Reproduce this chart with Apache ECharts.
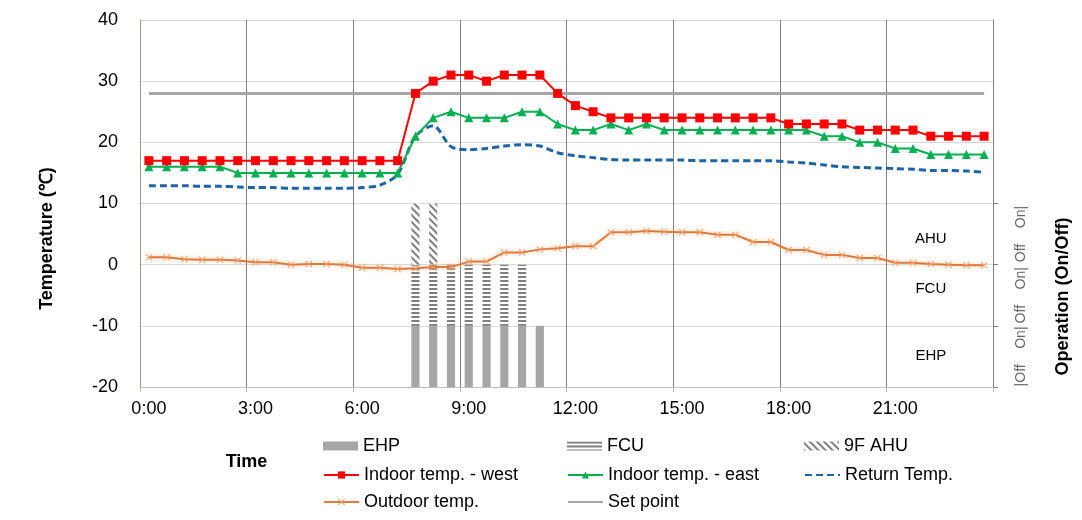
<!DOCTYPE html>
<html>
<head>
<meta charset="utf-8">
<script src="https://cdn.jsdelivr.net/npm/echarts@6/dist/echarts.min.js"></script>
<style>
html,body{margin:0;padding:0;background:#fff;}
#c{width:1082px;height:520px;}
</style>
</head>
<body>
<div id="c"></div>
<script>
var times = ["0:00","0:30","1:00","1:30","2:00","2:30","3:00","3:30","4:00","4:30","5:00","5:30",
  "6:00","6:30","7:00","7:30","8:00","8:30","9:00","9:30","10:00","10:30","11:00","11:30",
  "12:00","12:30","13:00","13:30","14:00","14:30","15:00","15:30","16:00","16:30","17:00","17:30",
  "18:00","18:30","19:00","19:30","20:00","20:30","21:00","21:30","22:00","22:30","23:00","23:30"];

var indoorWest = [17,17,17,17,17,17,17,17,17,17,17,17,17,17,17,
  28,30,31,31,30,31,31,31,28,26,25,24,24,24,24,24,24,24,24,24,24,
  23,23,23,23,22,22,22,22,21,21,21,21];

var indoorEast = [16,16,16,16,16,15,15,15,15,15,15,15,15,15,15,
  21,24,25,24,24,24,25,25,23,22,22,23,22,23,22,22,22,22,22,22,22,
  22,22,21,21,20,20,19,19,18,18,18,18];

var returnTemp = [12.9,12.9,12.9,12.8,12.8,12.7,12.6,12.6,12.5,12.5,12.5,12.5,12.6,13.0,14.8,
  21.0,22.7,19.3,18.8,19.0,19.4,19.6,19.4,18.3,17.8,17.5,17.2,17.1,17.1,17.1,17.1,17.0,
  17.0,17.0,17.0,17.0,16.8,16.6,16.3,16.0,15.9,15.8,15.7,15.6,15.4,15.4,15.3,15.1];

var outdoorTemp = [1.2,1.2,0.9,0.8,0.8,0.7,0.4,0.4,0.0,0.1,0.1,0.0,-0.5,-0.5,-0.7,
  -0.6,-0.4,-0.4,0.5,0.5,2.0,2.0,2.5,2.7,3.0,3.0,5.3,5.3,5.5,5.4,5.3,5.3,
  4.9,4.9,3.7,3.7,2.4,2.4,1.6,1.6,1.1,1.1,0.3,0.3,0.1,0.0,-0.1,-0.1];

var setPoint = [28,28,28,28,28,28,28,28,28,28,28,28,28,28,28,28,28,28,28,28,28,28,28,28,
  28,28,28,28,28,28,28,28,28,28,28,28,28,28,28,28,28,28,28,28,28,28,28,28];

var ehpOn = [0,0,0,0,0,0,0,0,0,0,0,0,0,0,0,1,1,1,1,1,1,1,1,0,
  0,0,0,0,0,0,0,0,0,0,0,0,0,0,0,0,0,0,0,0,0,0,0,0];
var fcuOn = [0,0,0,0,0,0,0,0,0,0,0,0,0,0,0,1,1,1,1,1,1,1,0,0,
  0,0,0,0,0,0,0,0,0,0,0,0,0,0,0,0,0,0,0,0,0,0,0,0];
var ahuOn = [0,0,0,0,0,0,0,0,0,0,0,0,0,0,0,1,1,0,0,0,0,0,0,0,
  0,0,0,0,0,0,0,0,0,0,0,0,0,0,0,0,0,0,0,0,0,0,0,0];

var tempTicks = [-20,40,10];
var opLabels = ["|Off    On|", "Off    On|", "Off    On|"];
var zoneNotes = [[44, 4.3, "AHU"], [44, -3.9, "FCU"], [44, -14.9, "EHP"]];

var FONT = "Liberation Sans, Arial, sans-serif";
var chart = echarts.init(document.getElementById('c'));

var xPath = 'path://M0,1L1,0L5,4L9,0L10,1L6,5L10,9L9,10L5,6L1,10L0,9L4,5Z';
var NOFILL = 'rgba(0,0,0,0)';

var textSt = {fontFamily: FONT, fontSize: 18, color: '#000', lineHeight: 20};
function lg(left, top, h, gap, data, icon) {
  var o = {orient: 'vertical', left: left, top: top, itemWidth: 35, itemHeight: h, itemGap: gap,
    textStyle: textSt, selectedMode: false, data: data};
  if (icon) o.icon = icon;
  return o;
}

var option = {
  animation: false,
  backgroundColor: '#fff',
  grid: {left: 140, right: 89, top: 20, bottom: 133, containLabel: false},
  legend: [
    lg(318, 431, 9, 8, ['EHP'], 'rect'),
    lg(562, 431, 9, 8, ['FCU'], 'rect'),
    lg(799, 431, 9, 8, ['9F AHU'], 'rect'),
    lg(318, 460, 9, 7, ['Indoor temp. - west', 'Outdoor temp.']),
    lg(562, 460, 9, 7, ['Indoor temp. - east', 'Set point']),
    lg(799, 460, 9, 7, ['Return Temp.'])
  ],
  xAxis: {
    type: 'category', data: times, boundaryGap: true,
    name: 'Time', nameLocation: 'middle', nameGap: 66,
    nameTextStyle: {fontFamily: FONT, fontSize: 18, fontWeight: 'bold', color: '#000', padding: [0, 640, 0, 0]},
    axisLine: {onZero: false, lineStyle: {color: '#bfbfbf'}},
    axisTick: {show: true, interval: 5, length: 5, lineStyle: {color: '#bfbfbf'}},
    axisLabel: {interval: 5, fontFamily: FONT, fontSize: 18, color: '#000', margin: 13},
    splitLine: {show: true, interval: 5, lineStyle: {color: '#808080', width: 1}}
  },
  yAxis: [
    {
      type: 'value', min: tempTicks[0], max: tempTicks[1], interval: tempTicks[2],
      name: 'Temperature (℃)', nameLocation: 'middle', nameGap: 84, nameRotate: 90,
      nameTextStyle: {fontFamily: FONT, fontSize: 18, fontWeight: 'bold', color: '#000', padding: [0, 70, 0, 0]},
      axisLine: {show: true, lineStyle: {color: '#8fa37f'}},
      axisTick: {show: false},
      axisLabel: {fontFamily: FONT, fontSize: 18, color: '#000', margin: 22},
      splitLine: {show: true, lineStyle: {color: '#d9d9d9'}}
    },
    {
      type: 'value', min: 0, max: 6, interval: 1, position: 'right',
      name: 'Operation (On/Off)', nameLocation: 'middle', nameGap: 61, nameRotate: 90,
      nameTextStyle: {fontFamily: FONT, fontSize: 18, fontWeight: 'bold', color: '#000', padding: [0, 186, 0, 0]},
      axisLine: {show: true, lineStyle: {color: '#808080'}},
      axisTick: {show: true, length: 5, customValues: [0, 1, 2, 3], lineStyle: {color: '#808080'}},
      axisLabel: {
        show: true, customValues: [0.5, 1.5, 2.5], rotate: 90, margin: 21,
        fontFamily: FONT, fontSize: 14, color: '#666',
        formatter: function (v) { return opLabels[Math.floor(v)]; }
      },
      splitLine: {show: false}
    }
  ],
  series: [
    {
      name: 'EHP', type: 'bar', yAxisIndex: 1, stack: 'op', data: ehpOn, barWidth: '46%',
      itemStyle: {color: '#a6a6a6'}, z: 1
    },
    {
      name: 'FCU', type: 'bar', yAxisIndex: 1, stack: 'op', data: fcuOn, barWidth: '46%',
      itemStyle: {
        color: '#ffffff',
        decal: {symbol: 'rect', symbolSize: 1, color: '#7f7f7f', backgroundColor: '#ffffff',
          dashArrayX: [1, 0], dashArrayY: [1.5, 1.5], rotation: 0}
      }, z: 1
    },
    {
      name: '9F AHU', type: 'bar', yAxisIndex: 1, stack: 'op', data: ahuOn, barWidth: '46%',
      itemStyle: {
        color: '#ffffff',
        decal: {symbol: 'rect', symbolSize: 1, color: '#7f7f7f', backgroundColor: '#ffffff',
          dashArrayX: [1, 0], dashArrayY: [1.5, 3], rotation: Math.PI / 4}
      }, z: 1
    },
    {
      name: 'Set point', type: 'line', data: setPoint, symbol: 'none',
      lineStyle: {color: '#a6a6a6', width: 3}, itemStyle: {color: NOFILL}, z: 2
    },
    {
      name: 'Outdoor temp.', type: 'line', data: outdoorTemp, symbol: xPath, symbolSize: 7,
      lineStyle: {color: '#e07a3a', width: 2, shadowColor: 'rgba(247,190,150,0.8)', shadowBlur: 5},
      itemStyle: {color: '#f2a06a'}, z: 3
    },
    {
      name: 'Return Temp.', type: 'line', data: returnTemp, symbol: 'none', smooth: 0.3,
      lineStyle: {color: '#1f64a6', width: 3, type: [7, 4]}, itemStyle: {color: NOFILL}, z: 4
    },
    {
      name: 'Indoor temp. - east', type: 'line', data: indoorEast, symbol: 'triangle', symbolSize: 9,
      lineStyle: {color: '#00b050', width: 2}, itemStyle: {color: '#00b050'}, z: 5
    },
    {
      name: 'Indoor temp. - west', type: 'line', data: indoorWest, symbol: 'rect', symbolSize: 9,
      lineStyle: {color: '#ff0000', width: 2}, itemStyle: {color: '#ff0000'}, z: 6
    },
    {
      name: 'zones', type: 'scatter', data: zoneNotes, symbolSize: 0, silent: true,
      itemStyle: {opacity: 1},
      emphasis: {disabled: true},
      label: {show: true, position: 'inside', formatter: function (p) { return p.data[2]; },
        fontFamily: FONT, fontSize: 15, color: '#000', opacity: 1, textBorderWidth: 0}, z: 7
    }
  ]
};
chart.setOption(option);
</script>
</body>
</html>
